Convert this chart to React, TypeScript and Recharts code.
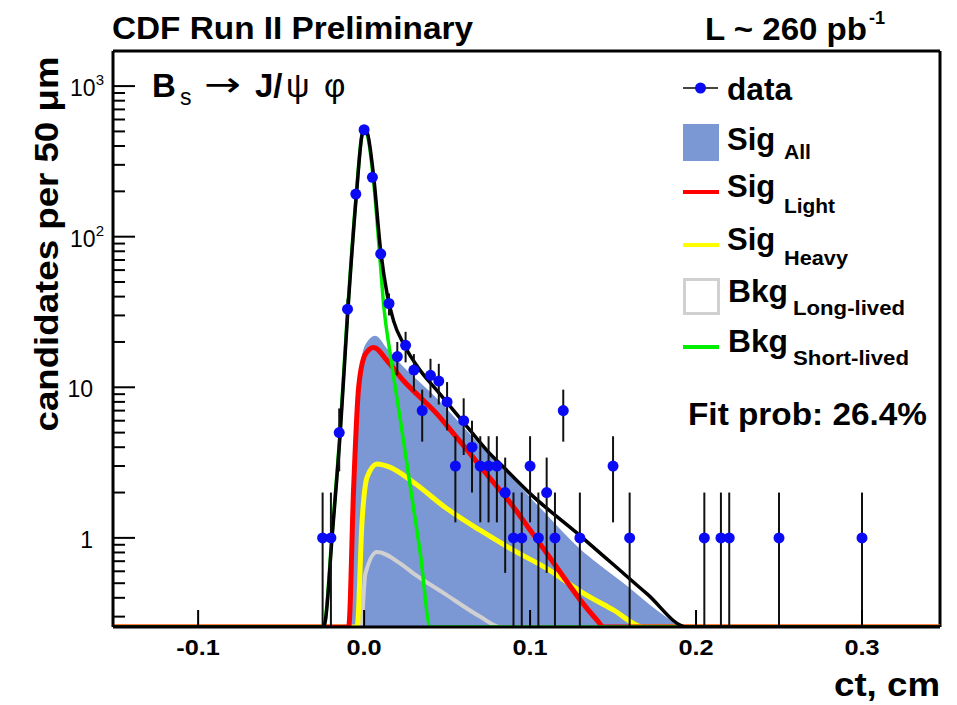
import {
  ComposedChart,
  Line,
  Area,
  Scatter,
  ErrorBar,
  XAxis,
  YAxis,
  ReferenceLine
} from 'recharts';

const FONT = '"Liberation Sans", Arial, Helvetica, sans-serif';

// axis ranges (log y)
const X_MIN = -0.1513;
const X_MAX = 0.347;
const FLOOR = 0.256;
const Y_MAX = 1710;

// ct bin centres (cm) and candidates per 50 um
const binCenters = [
  -0.025, -0.02, -0.015, -0.01, -0.005, 0, 0.005, 0.01, 0.015, 0.02,
  0.025, 0.03, 0.035, 0.04, 0.045, 0.05, 0.055, 0.06, 0.065, 0.07,
  0.075, 0.08, 0.085, 0.09, 0.095, 0.1, 0.105, 0.11, 0.115, 0.12,
  0.13, 0.15, 0.16, 0.205, 0.215, 0.22, 0.25, 0.3
];
const counts = [
  1, 1, 5, 33, 192, 513, 248, 77, 36, 16,
  19, 13, 7, 12, 11, 8, 3, 6, 4, 3,
  3, 3, 2, 1, 1, 3, 1, 2, 1, 7,
  1, 3, 1, 1, 1, 1, 1, 1
];

// fit projections, [ct, candidates]
const totalCurve: [number, number][] = [
  [-0.151, FLOOR], [-0.0243, FLOOR], [-0.0233, 0.284], [-0.0193, 1.01], [-0.0143, 5.15],
  [-0.0102, 27.5], [-0.0046, 192], [-0.0012, 478], [0.0004, 520], [0.0022, 478],
  [0.0058, 248], [0.0098, 84], [0.0139, 41.4], [0.0178, 27.5], [0.0239, 19.3],
  [0.0339, 12.9], [0.044, 9.5], [0.054, 7.0], [0.064, 5.15], [0.0741, 3.8],
  [0.0841, 2.94], [0.1002, 1.96], [0.1303, 1.03], [0.150, 0.668], [0.1705, 0.425],
  [0.1946, FLOOR], [0.347, FLOOR]
];
const bkgShortCurve: [number, number][] = [
  [-0.151, FLOOR], [-0.0245, FLOOR], [-0.0235, 0.28], [-0.0195, 1.0], [-0.0145, 5.1],
  [-0.0104, 27], [-0.0048, 188], [-0.0013, 470], [0.0004, 515], [0.0022, 462],
  [0.0058, 228], [0.0098, 66], [0.0118, 35], [0.0158, 16.5], [0.0219, 6.0],
  [0.0279, 2.17], [0.0339, 0.786], [0.0399, FLOOR], [0.347, FLOOR]
];
const sigLightCurve: [number, number][] = [
  [-0.151, FLOOR], [-0.0093, FLOOR], [-0.0063, 2.17], [-0.0033, 9.97], [0.0008, 16.6],
  [0.0058, 18.4], [0.0139, 15.0], [0.0239, 11.0], [0.0339, 8.56], [0.044, 6.64],
  [0.054, 4.9], [0.064, 3.61], [0.072, 2.8], [0.0901, 1.6], [0.1002, 1.12],
  [0.1102, 0.786], [0.1202, 0.55], [0.1303, 0.386], [0.1404, 0.284], [0.1443, FLOOR],
  [0.347, FLOOR]
];
const sigHeavyCurve: [number, number][] = [
  [-0.151, FLOOR], [-0.0042, FLOOR], [-0.0012, 1.31], [0.0018, 2.53], [0.0078, 3.1],
  [0.0158, 2.94], [0.0299, 2.33], [0.05, 1.56], [0.0701, 1.12], [0.0901, 0.826],
  [0.1102, 0.625], [0.1303, 0.442], [0.1504, 0.331], [0.1684, FLOOR], [0.347, FLOOR]
];
const bkgLongCurve: [number, number][] = [
  [-0.151, FLOOR], [-0.0019, FLOOR], [0.0008, 0.579], [0.0078, 0.805], [0.0219, 0.675],
  [0.0299, 0.579], [0.048, 0.43], [0.0701, 0.299], [0.0821, FLOOR], [0.347, FLOOR]
];
const sigAllCurve: [number, number][] = [
  [-0.0098, FLOOR], [-0.0063, 2.4], [-0.0033, 10.6], [0.0008, 19.2], [0.0068, 22.0],
  [0.0139, 18.0], [0.0239, 13.6], [0.0339, 10.7], [0.044, 8.4], [0.054, 6.4],
  [0.064, 4.85], [0.072, 3.9], [0.0901, 2.45], [0.1002, 1.85], [0.1102, 1.42],
  [0.1202, 1.08], [0.1303, 0.84], [0.1404, 0.68], [0.1605, 0.46], [0.175, 0.34],
  [0.1905, FLOOR]
];

const xTicks = [-0.1, 0, 0.1, 0.2, 0.3];
const yMajorTicks = [1, 10, 100, 1000];
const yMajorLabels: [string, string][] = [['1', ''], ['10', ''], ['10', '2'], ['10', '3']];
const yMinorTicks = [
  0.3, 0.4, 0.5, 0.6, 0.7, 0.8, 0.9,
  2, 3, 4, 5, 6, 7, 8, 9,
  20, 30, 40, 50, 60, 70, 80, 90,
  200, 300, 400, 500, 600, 700, 800, 900
];

const toPoints = (c: [number, number][]) => c.map(([x, y]) => ({ x, y }));

const dataPoints = binCenters.map((x, i) => {
  const n = counts[i];
  const e = Math.sqrt(n);
  return { x, y: n, err: [n - Math.max(n - e, FLOOR), e] };
});

function XTick({ x, y, payload }: any) {
  return (
    <g>
      <line x1={x} x2={x} y1={y} y2={y - 17} stroke="#000" strokeWidth={2} />
      <text transform={`translate(${x},${y + 28}) scale(1.15,1)`} textAnchor="middle" fontSize={22}
        fontWeight="bold" fontFamily={FONT} fill="#000">
        {Number(payload.value).toFixed(1)}
      </text>
    </g>
  );
}

function YTick({ x, y, payload }: any) {
  const idx = yMajorTicks.indexOf(payload.value);
  const major = idx >= 0;
  const [base, sup] = major ? yMajorLabels[idx] : ['', ''];
  return (
    <g>
      <line x1={x} x2={x + (major ? 22 : 12)} y1={y} y2={y} stroke="#000" strokeWidth={2} />
      {major && (
        <text x={sup ? x - 9 : x - 20} y={y + 10} textAnchor="end" fontSize={23} fontFamily={FONT} fill="#000">
          {base}
          {sup && <tspan dy={-11} fontSize={15}>{sup}</tspan>}
        </text>
      )}
    </g>
  );
}

function Dot(props: any) {
  return <circle cx={props.cx} cy={props.cy} r={5.5} fill="#0a0af5" />;
}

export default function App() {
  const sub = { fontSize: 21, fontWeight: 'bold' as const };
  return (
    <div style={{ position: 'absolute', left: 0, top: 0, width: 957, height: 705, background: '#fff' }}>
      <ComposedChart width={957} height={705} margin={{ top: 51, right: 17, bottom: 0, left: 0 }}>
        <XAxis
          type="number"
          dataKey="x"
          domain={[X_MIN, X_MAX]}
          ticks={xTicks}
          allowDataOverflow
          height={78}
          tickSize={0}
          tickMargin={0}
          tickLine={false}
          interval={0}
          axisLine={{ stroke: '#000', strokeWidth: 3 }}
          tick={<XTick />}
        />
        <YAxis
          type="number"
          scale="log"
          domain={[FLOOR, Y_MAX]}
          ticks={[...yMinorTicks, ...yMajorTicks].sort((a, b) => a - b)}
          allowDataOverflow
          width={113}
          tickSize={0}
          tickMargin={0}
          tickLine={false}
          interval={0}
          axisLine={{ stroke: '#000', strokeWidth: 3 }}
          tick={<YTick />}
        />
        <ReferenceLine y={Y_MAX} stroke="#000" strokeWidth={3} />
        <ReferenceLine x={X_MAX} stroke="#000" strokeWidth={3} />

        <Area data={toPoints(sigAllCurve)} dataKey="y" type="monotone" baseValue={FLOOR}
          fill="#7b97d4" fillOpacity={1} stroke="none" isAnimationActive={false} />
        <Line data={toPoints(bkgLongCurve)} dataKey="y" type="monotone" stroke="#d0d0d0"
          strokeWidth={4} dot={false} isAnimationActive={false} />
        <Line data={toPoints(sigHeavyCurve)} dataKey="y" type="monotone" stroke="#ffff00"
          strokeWidth={5} dot={false} isAnimationActive={false} />
        <Line data={toPoints(sigLightCurve)} dataKey="y" type="monotone" stroke="#ff0000"
          strokeWidth={5} dot={false} isAnimationActive={false} />
        <Line data={toPoints(bkgShortCurve)} dataKey="y" type="monotone" stroke="#00ee00"
          strokeWidth={3.5} dot={false} isAnimationActive={false} />
        <Line data={toPoints(totalCurve)} dataKey="y" type="monotone" stroke="#000"
          strokeWidth={3.5} dot={false} isAnimationActive={false} />
        <Scatter data={dataPoints} dataKey="y" shape={<Dot />} isAnimationActive={false}>
          <ErrorBar dataKey="err" direction="y" width={0} stroke="#111" strokeWidth={2} isAnimationActive={false} />
        </Scatter>
      </ComposedChart>

      <svg width={957} height={705} style={{ position: 'absolute', left: 0, top: 0, pointerEvents: 'none' }}
        fontFamily={FONT} fill="#000">
        <text x={112} y={39} fontSize={31} fontWeight="bold" textLength={361} lengthAdjust="spacingAndGlyphs">
          CDF Run II Preliminary
        </text>
        <text x={705} y={40} fontSize={31} fontWeight="bold" textLength={162} lengthAdjust="spacingAndGlyphs">
          L ~ 260 pb
        </text>
        <text x={869} y={24} fontSize={18} fontWeight="bold">-1</text>

        <text x={152} y={97} fontSize={33} fontWeight="bold">B</text>
        <text x={180} y={105} fontSize={23}>s</text>
        <text x={204} y={96} fontSize={34} fontFamily='"DejaVu Sans", sans-serif' textLength={37}
          lengthAdjust="spacingAndGlyphs">→</text>
        <text x={255} y={97} fontSize={33} fontWeight="bold">J/</text>
        <text x={286} y={97} fontSize={33}>ψ</text>
        <text x={324} y={97} fontSize={33}>φ</text>

        <text transform="translate(58,244) rotate(-90)" textAnchor="middle" fontSize={34} fontWeight="bold"
          textLength={375} lengthAdjust="spacingAndGlyphs">
          candidates per 50 μm
        </text>
        <text x={940} y={696} textAnchor="end" fontSize={33} fontWeight="bold" textLength={106}
          lengthAdjust="spacingAndGlyphs">
          ct, cm
        </text>

        {/* legend */}
        <line x1={683} x2={718} y1={88} y2={88} stroke="#444" strokeWidth={2} />
        <circle cx={700.5} cy={88} r={5.5} fill="#0a0af5" />
        <text x={727} y={100} fontSize={31} fontWeight="bold" textLength={65} lengthAdjust="spacingAndGlyphs">data</text>

        <rect x={683} y={124} width={36} height={37} fill="#7b97d4" />
        <text x={727} y={150} fontSize={31} fontWeight="bold">Sig</text>
        <text x={784} y={159} {...sub} textLength={27} lengthAdjust="spacingAndGlyphs">All</text>

        <line x1={683} x2={719} y1={192} y2={192} stroke="#ff0000" strokeWidth={4} />
        <text x={727} y={197} fontSize={31} fontWeight="bold">Sig</text>
        <text x={784} y={213} {...sub} textLength={51} lengthAdjust="spacingAndGlyphs">Light</text>

        <line x1={683} x2={719} y1={245} y2={245} stroke="#ffff00" strokeWidth={4} />
        <text x={727} y={250} fontSize={31} fontWeight="bold">Sig</text>
        <text x={784} y={265} {...sub} textLength={64} lengthAdjust="spacingAndGlyphs">Heavy</text>

        <rect x={684.5} y={279.5} width={34} height={34} fill="none" stroke="#d0d0d0" strokeWidth={3} />
        <text x={728} y={302} fontSize={31} fontWeight="bold" textLength={60} lengthAdjust="spacingAndGlyphs">Bkg</text>
        <text x={793} y={315} {...sub} textLength={112} lengthAdjust="spacingAndGlyphs">Long-lived</text>

        <line x1={683} x2={719} y1={347} y2={347} stroke="#00ee00" strokeWidth={4} />
        <text x={728} y={352} fontSize={31} fontWeight="bold" textLength={60} lengthAdjust="spacingAndGlyphs">Bkg</text>
        <text x={793} y={365} {...sub} textLength={116} lengthAdjust="spacingAndGlyphs">Short-lived</text>

        <text x={688} y={425} fontSize={32} fontWeight="bold" textLength={239} lengthAdjust="spacingAndGlyphs">
          Fit prob: 26.4%
        </text>
      </svg>
    </div>
  );
}
